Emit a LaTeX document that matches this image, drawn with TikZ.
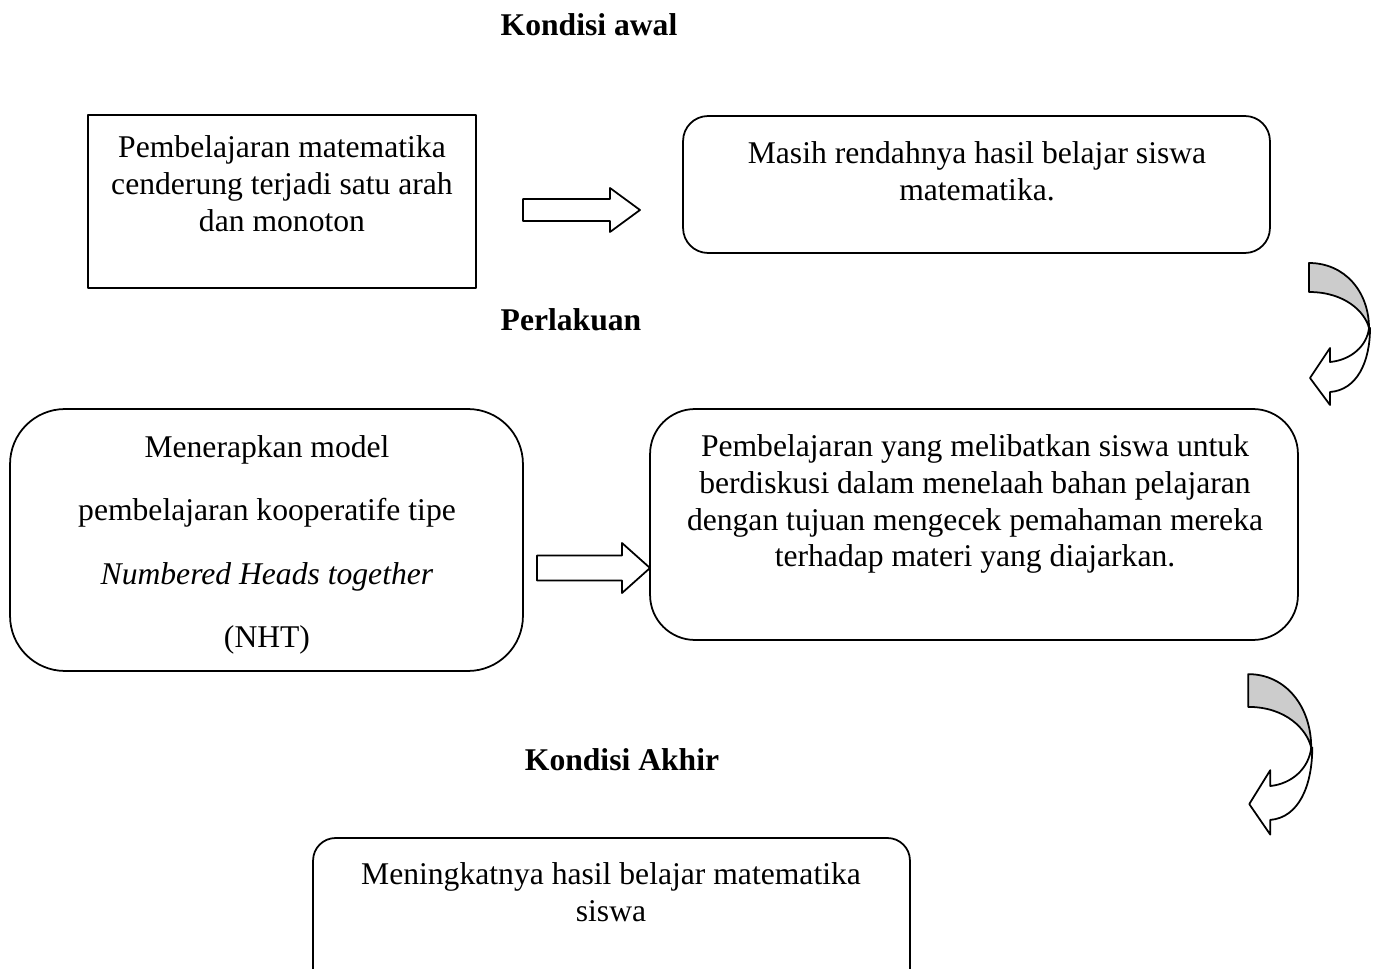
\documentclass[tikz,border=0pt]{standalone}
\usepackage{fontspec}
\setmainfont{Liberation Serif}
\usetikzlibrary{positioning}

\tikzset{%
  pics/fatarrow/.style n args={4}{code={%
      \draw[fill=white] (0,-#3) -- ({#1-#2},-#3) -- ({#1-#2},-#4) -- (#1,0)
        -- ({#1-#2},#4) -- ({#1-#2},#3) -- (0,#3) -- cycle;
    }},
  pics/turnarrow/.style={code={%
      \draw[fill=white] (64,66) .. controls (62,84) and (46,98) .. (25,100)
        -- (25,86) -- (5,116) -- (25,143) -- (25,130)
        .. controls (52,128) and (65,100) .. (65,66) -- cycle;
      \draw[fill=black!20] (4,1) .. controls (40,1) and (64,30) .. (64,66)
        .. controls (60,50) and (40,30) .. (4,30) -- cycle;
    }}
}

\begin{document}
\begin{tikzpicture}[%
    x=0.02cm,
    y=-0.02cm,
    line width=1pt,
    line join=round,
    title/.style={%
      font=\fontsize{18}{21}\selectfont\bfseries
    },
    txt/.style={%
      align=center,
      font=\fontsize{18}{21}\selectfont
    },
    box/.style={%
      draw,
      inner sep=0pt
    }
  ]
    \useasboundingbox (0,0) rectangle (1379,969);
    \clip (0,0) rectangle (1379,969);

    \node[title] (kawal)     at (589,25)  {Kondisi awal};
    \node[title] (perlakuan) at (571,320) {Perlakuan};
    \node[title] (kakhir)    at (622,760) {Kondisi Akhir};

    \node[box, minimum width=7.76cm, minimum height=3.46cm] (awal1) at (282,201.5) {};
    \node[box, rounded corners=0.5cm, minimum width=11.74cm, minimum height=2.74cm] (awal2) at (976.5,184.5) {};
    \node[box, rounded corners=1.1cm, minimum width=10.26cm, minimum height=5.24cm] (perl1) at (266.5,540) {};
    \node[box, rounded corners=0.9cm, minimum width=12.96cm, minimum height=4.62cm] (perl2) at (974,524.5) {};
    \node[box, rounded corners=0.45cm, minimum width=11.94cm, minimum height=3.24cm] (akhir) at (611.5,919) {};

    \node[txt] (awal1txt) at (282,184) {Pembelajaran matematika\\cenderung terjadi satu arah\\dan monoton};
    \node[txt] (awal2txt) at (977,171.5) {Masih rendahnya hasil belajar siswa\\matematika.};
    \node[txt, font=\fontsize{18}{36}\selectfont] (perl1txt) at (267,545) {Menerapkan model\\pembelajaran kooperatife tipe\\\textit{Numbered Heads together}\\(NHT)};
    \node[txt] (perl2txt) at (975,504) {Pembelajaran yang melibatkan siswa untuk\\berdiskusi dalam menelaah bahan pelajaran\\dengan tujuan mengecek pemahaman mereka\\terhadap materi yang diajarkan.};
    \node[txt] (akhirtxt) at (611,892) {Meningkatnya hasil belajar matematika\\siswa};

    \pic (ar1) at (523,210) {fatarrow={117}{30}{11}{22}};
    \pic (ar2) at (537,568) {fatarrow={113}{28}{12.5}{25}};

    \pic (turn1) at (1305,262) {turnarrow};
    \pic[xscale=1.05, yscale=1.13] (turn2) at (1244,673) {turnarrow};
  \end{tikzpicture}
\end{document}
